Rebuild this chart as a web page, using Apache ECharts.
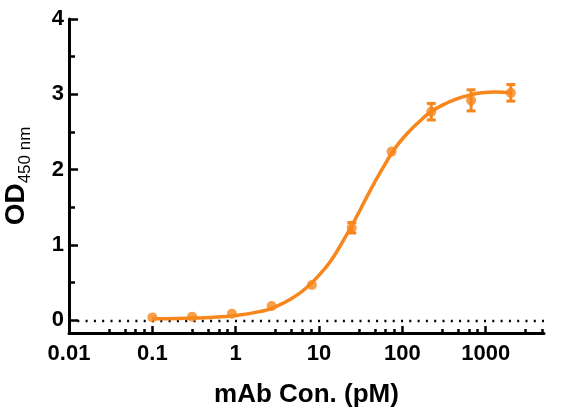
<!DOCTYPE html>
<html>
<head>
<meta charset="utf-8">
<script src="https://cdn.jsdelivr.net/npm/echarts@6/dist/echarts.min.js"></script>
<style>
  html, body { margin: 0; padding: 0; background: #fff; }
  #chart { width: 563px; height: 420px; }
</style>
</head>
<body>
<div id="chart"></div>
<script>
// measured points, 3-fold dilution (mean, SD)
var conc = [0.1, 0.3, 0.9, 2.7, 8.2, 24.7, 74.1, 222, 667, 2000]
var od = [0.04, 0.05, 0.09, 0.19, 0.47, 1.23, 2.24, 2.77, 2.92, 3.02]
var sd = [0, 0, 0, 0, 0, 0.07, 0, 0.11, 0.14, 0.11]

// fitted curve
var fitConc = [0.1, 0.2, 0.5, 1, 2, 3, 5, 7, 10, 14, 20, 28, 40, 56, 80, 110, 160, 220, 320, 450, 640, 900, 1300, 2000]
var fitOd = [0.023, 0.027, 0.04, 0.065, 0.12, 0.18, 0.31, 0.43, 0.6, 0.8, 1.08, 1.37, 1.7, 1.99, 2.27, 2.46, 2.64, 2.77, 2.87, 2.94, 2.99, 3.02, 3.03, 3.02]

// axis ticks
var xMajor = [0.01, 0.1, 1, 10, 100, 1000]
var xMinor = [0.03, 0.047, 0.063, 0.08, 0.3, 0.47, 0.63, 0.8, 3, 4.7, 6.3, 8, 30, 47, 63, 80, 300, 470, 630, 800, 3000, 4700]
var yMajor = [0, 1, 2, 3, 4]
var yMinor = [0.5, 1.5, 2.5, 3.5]

var orange = '#F7861C'
var font = 'Arial, "Liberation Sans", sans-serif'

var myChart = echarts.init(document.getElementById('chart'))

var logAxis = function (extra) {
  return Object.assign({
    type: 'log',
    logBase: 10,
    min: 0.01,
    max: 5000,
    position: 'bottom',
    splitLine: { show: false }
  }, extra)
}
var valAxis = function (extra) {
  return Object.assign({
    type: 'value',
    min: -0.167,
    max: 4,
    position: 'left',
    splitLine: { show: false }
  }, extra)
}

var option = {
  animation: false,
  backgroundColor: '#fff',
  grid: { left: 69, right: 19, top: 19, bottom: 87, containLabel: false, outerBoundsMode: 'none' },
  xAxis: [
    logAxis({
      name: 'mAb Con. (pM)',
      nameLocation: 'middle',
      nameGap: 49,
      nameTextStyle: { fontFamily: font, fontWeight: 'bold', fontSize: 26, color: '#000' },
      axisLine: { show: true, onZero: false, lineStyle: { color: '#000', width: 3 } },
      axisTick: { show: true, inside: true, length: 7, lineStyle: { color: '#000', width: 2.5 }, customValues: xMajor },
      axisLabel: {
        show: true, margin: 10, fontFamily: font, fontWeight: 'bold', fontSize: 22, color: '#000',
        customValues: xMajor,
        formatter: function (v) { return String(v) }
      }
    }),
    logAxis({
      axisLine: { show: false, onZero: false },
      axisTick: { show: true, inside: true, length: 4, lineStyle: { color: '#000', width: 2.5 }, customValues: xMinor },
      axisLabel: { show: false }
    })
  ],
  yAxis: [
    valAxis({
      name: '{a|OD}{b|450 nm}',
      nameLocation: 'middle',
      nameGap: 20,
      nameTextStyle: {
        fontFamily: font,
        color: '#000',
        rich: {
          a: { fontFamily: font, fontWeight: 'bold', fontSize: 28, lineHeight: 27, verticalAlign: 'top', color: '#000' },
          b: { fontFamily: font, fontSize: 17, lineHeight: 47, color: '#000' }
        }
      },
      axisLine: { show: true, onZero: false, lineStyle: { color: '#000', width: 3 } },
      axisTick: { show: true, inside: true, length: 9, lineStyle: { color: '#000', width: 2.5 }, customValues: yMajor },
      axisLabel: {
        show: true, margin: 5, fontFamily: font, fontWeight: 'bold', fontSize: 22, color: '#000',
        customValues: yMajor
      }
    }),
    valAxis({
      axisLine: { show: false, onZero: false },
      axisTick: { show: true, inside: true, length: 6, lineStyle: { color: '#000', width: 2.5 }, customValues: yMinor },
      axisLabel: { show: false }
    })
  ],
  series: [
    {
      type: 'line',
      data: fitConc.map(function (c, i) { return [c, fitOd[i]] }),
      smooth: 0.5,
      showSymbol: false,
      lineStyle: { color: orange, width: 3.5 },
      z: 3,
      markLine: {
        silent: true,
        symbol: 'none',
        label: { show: false },
        lineStyle: { color: '#000', type: [2, 6.3], width: 2.4 },
        data: [{ yAxis: 0 }],
        z: 1
      }
    },
    {
      type: 'custom',
      data: conc.map(function (c, i) { return [c, od[i], sd[i]] }),
      renderItem: function (params, api) {
        var e = api.value(2)
        if (!e) return
        var x = api.value(0), y = api.value(1)
        var hi = api.coord([x, y + e])
        var lo = api.coord([x, y - e])
        var w = 4.5
        var st = { stroke: orange, lineWidth: 3 }
        return {
          type: 'group',
          children: [
            { type: 'line', shape: { x1: hi[0], y1: hi[1], x2: lo[0], y2: lo[1] }, style: st },
            { type: 'line', shape: { x1: hi[0] - w, y1: hi[1], x2: hi[0] + w, y2: hi[1] }, style: st },
            { type: 'line', shape: { x1: lo[0] - w, y1: lo[1], x2: lo[0] + w, y2: lo[1] }, style: st }
          ]
        }
      },
      z: 4
    },
    {
      type: 'scatter',
      data: conc.map(function (c, i) { return [c, od[i]] }),
      symbol: 'circle',
      symbolSize: 10,
      itemStyle: { color: orange },
      z: 5
    }
  ]
}

myChart.setOption(option)
</script>
</body>
</html>
